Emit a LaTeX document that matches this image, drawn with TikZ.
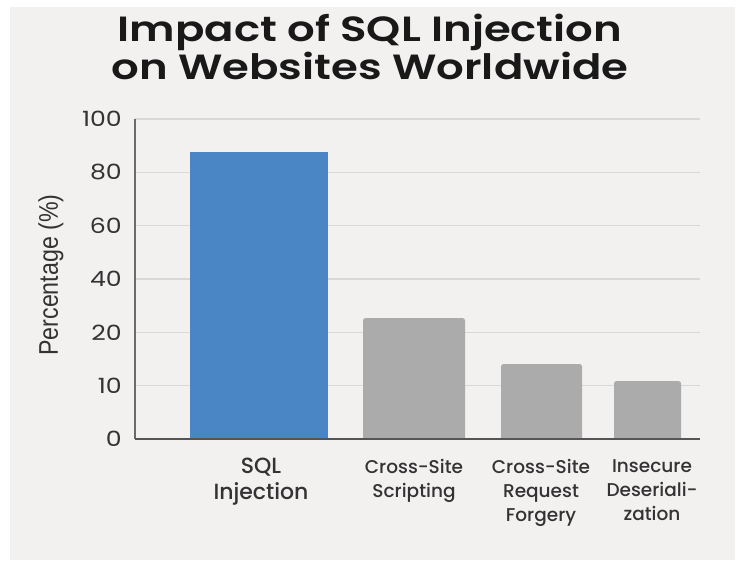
\documentclass[tikz,border=0pt]{standalone}
\usepackage{fontspec}
\setmainfont{Poppins}
\newfontfamily\titlefont{Poppins SemiBold}
\newfontfamily\medfont{Poppins Medium}
\newfontfamily\narrowfont{Liberation Sans}
\usetikzlibrary{positioning}
\definecolor{panelbg}{HTML}{F3F0F0}
\definecolor{barBlue}{HTML}{4A86C5}
\definecolor{barGrey}{HTML}{ABABAB}
\definecolor{gridline}{HTML}{DAD7D7}
\definecolor{axisline}{HTML}{6A6A6A}
\definecolor{labeltext}{HTML}{333333}
\tikzset{
  catlabel/.style={anchor=north,align=center,inner sep=0pt,text=labeltext,
    font=\medfont\fontsize{18.5}{24}\selectfont},
  ticklabel/.style={anchor=east,inner sep=0pt,text=labeltext,
    font=\fontsize{21}{24}\selectfont}
}

\begin{document}
\begin{tikzpicture}[x=1pt,y=-1pt]
  \useasboundingbox (0,0) rectangle (738,560);
  \fill[panelbg] (10,7) rectangle (735,560);
  % title
  \node[align=center,text=black!90,font=\titlefont\fontsize{35}{36}\selectfont]
    (title) at (370,47) {\scalebox{1.24}[1]{Impact of SQL Injection}\\
      \scalebox{1.24}[1]{on Websites Worldwide}};
  % grid and y ticks
  \foreach \lab [count=\i from 0] in {0,10,20,40,60,80,100} {
    \draw[gridline,line width=1.2] (135,{439-53.33*\i}) -- (700,{439-53.33*\i});
    \node[ticklabel] (tick\i) at (122,{439-53.33*\i}) {\scalebox{1.2}[1]{\lab}};
  }
  \node[rotate=90,text=labeltext,font=\narrowfont\fontsize{27}{30}\selectfont]
    (ylab) at (51,275) {\scalebox{0.86}[1]{Percentage (\%)}};
  % bars
  \fill[barBlue] (190,439) rectangle (328,152);
  \foreach \xa/\xb/\top in {363/465/318,501/582/364,614/681/381}
    \fill[barGrey] (\xa,439) [rounded corners=2.5] -- (\xa,\top) -- (\xb,\top)
      [sharp corners] -- (\xb,439) -- cycle;
  % axes
  \draw[axisline,line width=1.2] (135,119) -- (135,439);
  \draw[axisline!80!black,line width=1.6] (135,439) -- (700,439);
  % categories
  \node[catlabel,font=\medfont\fontsize{22}{26}\selectfont] (cat1) at (261,458)
    {SQL\\Injection};
  \foreach \n/\cx/\txt in {2/414/{Cross-Site\\Scripting},
      3/541/{Cross-Site\\Request\\Forgery},
      4/652/{Insecure\\Deseriali-\\zation}}
    \node[catlabel] (cat\n) at (\cx,459) {\txt};
\end{tikzpicture}
\end{document}
